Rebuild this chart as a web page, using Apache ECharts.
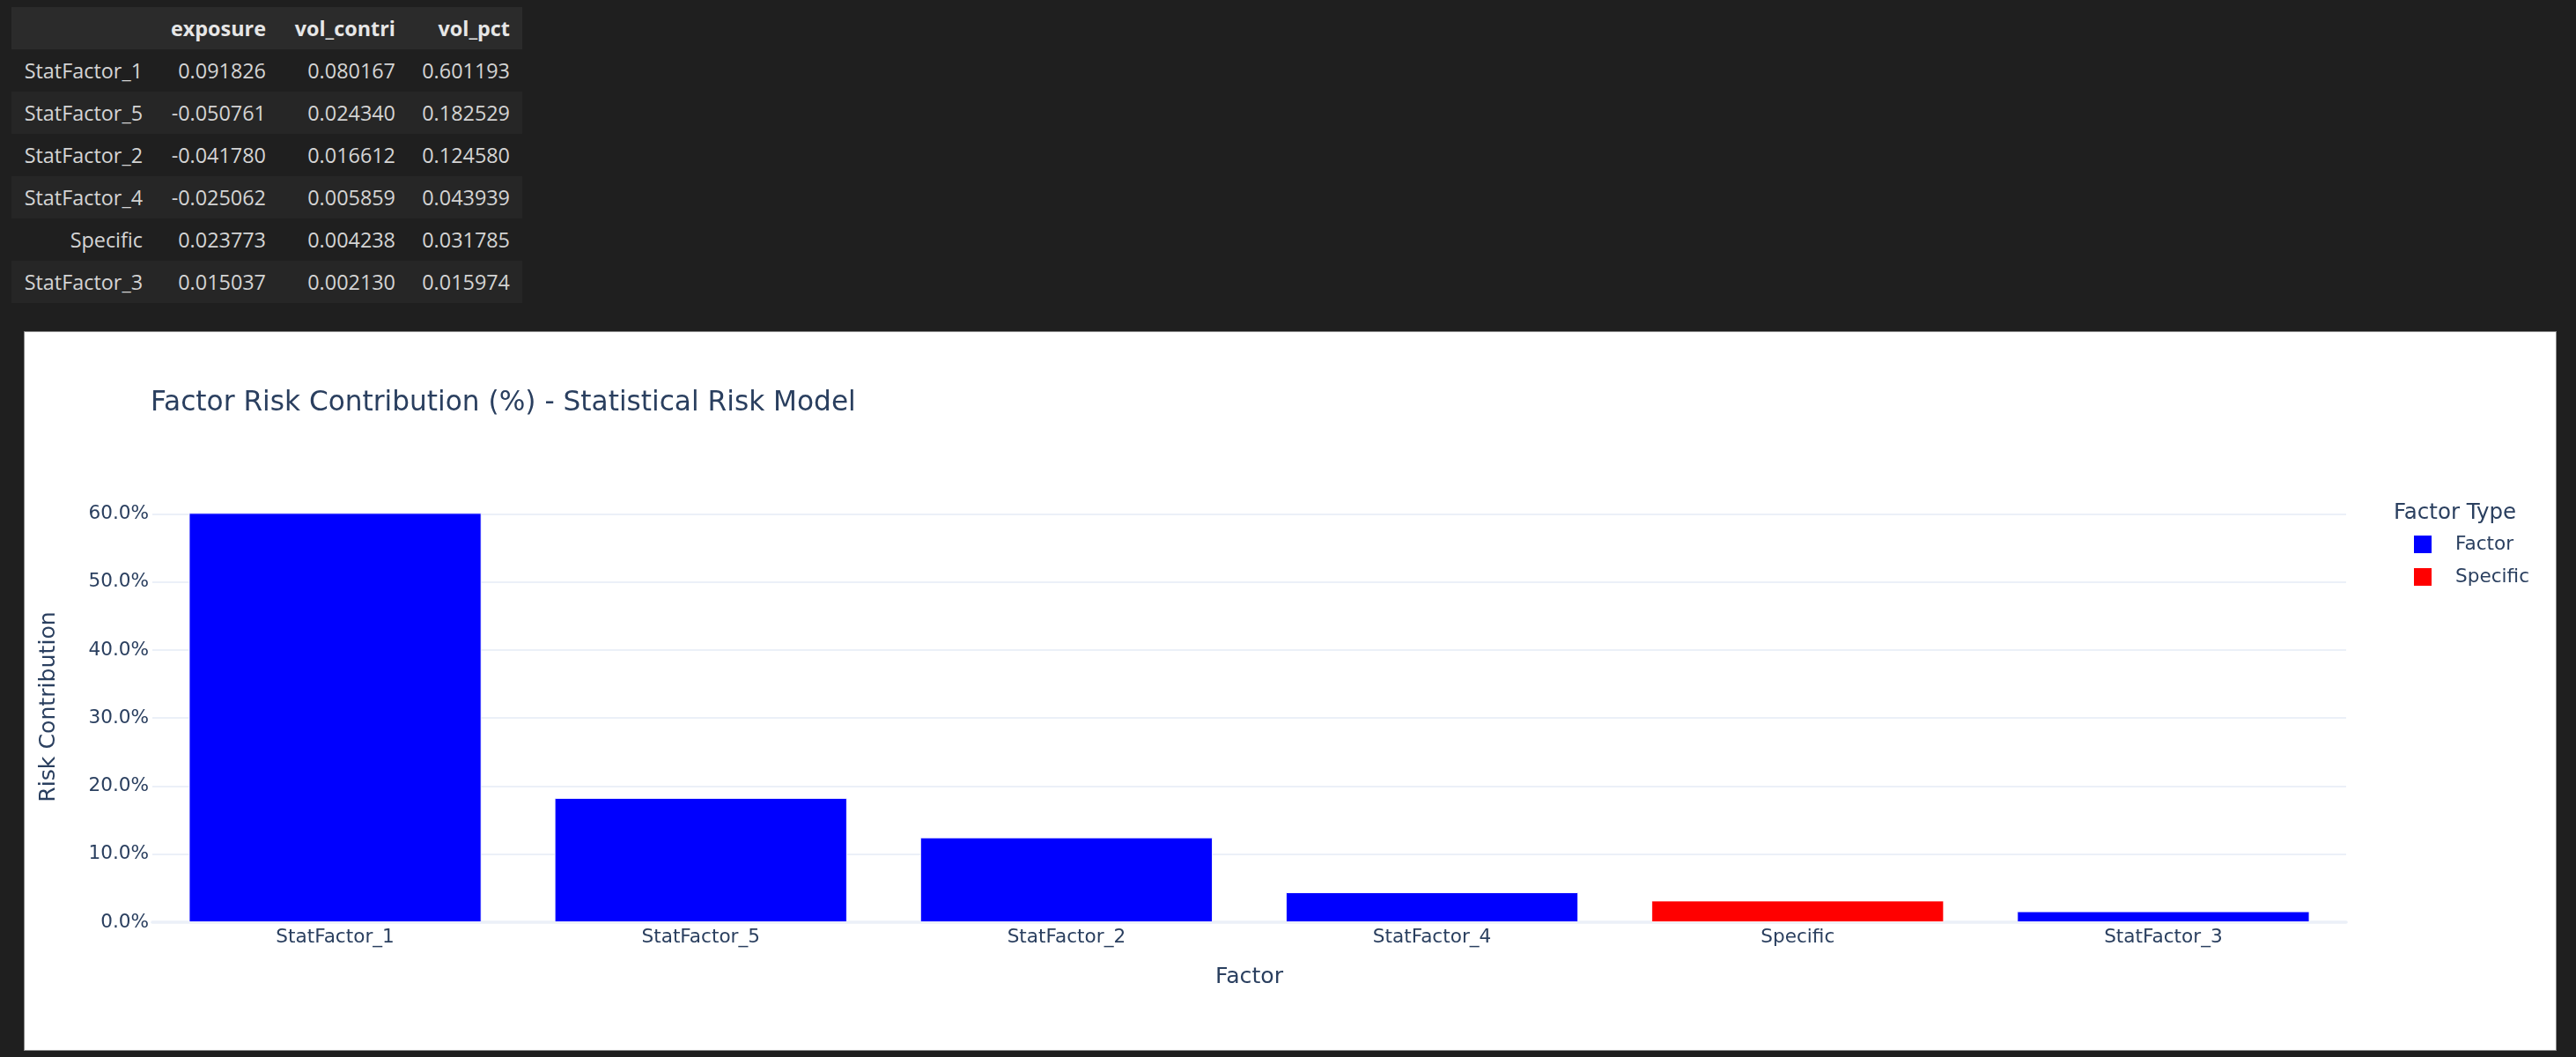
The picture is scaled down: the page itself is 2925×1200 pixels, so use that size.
<!DOCTYPE html>
<html>
<head>
<meta charset="utf-8">
<script src="https://cdn.jsdelivr.net/npm/echarts@6/dist/echarts.min.js"></script>
<style>
html,body{margin:0;padding:0;background:#1f1f1f;width:2925px;height:1200px;overflow:hidden;}
#tbl{position:absolute;left:13px;top:8px;border-collapse:collapse;table-layout:fixed;font-family:"Open Sans",sans-serif;font-size:23.4px;color:#d4d4d4;}
#tbl th,#tbl td{height:48px;padding:0 14px 0 0;text-align:right;box-sizing:border-box;white-space:nowrap;}
#tbl thead tr{background:#2b2b2b;}
#tbl tbody tr:nth-child(even){background:#262626;}
#tbl th{font-weight:bold;color:#e6e6e6;}
#chart{position:absolute;left:28px;top:377px;width:2874px;height:815px;background:#fff;box-shadow:0 0 0 1px #8a8a8a;}
</style>
</head>
<body>
<table id="tbl"><colgroup><col style="width:163px"><col style="width:140px"><col style="width:147px"><col style="width:130px"></colgroup><thead></thead><tbody></tbody></table>
<div id="chart"></div>
<script>
// ---- data ----
const factors = ['StatFactor_1', 'StatFactor_5', 'StatFactor_2', 'StatFactor_4', 'Specific', 'StatFactor_3'];
const exposure = [0.091826, -0.050761, -0.041780, -0.025062, 0.023773, 0.015037];
const volContri = [0.080167, 0.024340, 0.016612, 0.005859, 0.004238, 0.002130];
const volPct = [0.601193, 0.182529, 0.124580, 0.043939, 0.031785, 0.015974];
const factorType = ['Factor', 'Factor', 'Factor', 'Factor', 'Specific', 'Factor'];
const tableColumns = ['exposure', 'vol_contri', 'vol_pct'];
const typeNames = ['Factor', 'Specific'];
const typeColors = ['#0000ff', '#ff0000'];
const yAxisMax = 0.6328;
const yTickStep = 0.1;

// ---- table ----
const thead = document.querySelector('#tbl thead');
const tbody = document.querySelector('#tbl tbody');
thead.innerHTML = '<tr><th></th>' + tableColumns.map(c => '<th>' + c + '</th>').join('') + '</tr>';
let rows = '';
factors.forEach((f, i) => {
  rows += '<tr><td>' + f + '</td><td>' + exposure[i].toFixed(6) + '</td><td>' +
    volContri[i].toFixed(6) + '</td><td>' + volPct[i].toFixed(6) + '</td></tr>';
});
tbody.innerHTML = rows;

// ---- chart ----
const FONT = '"DejaVu Sans", Verdana, sans-serif';
const C = '#2a3f5f';
const GRID = '#EBF0F8';
const chart = echarts.init(document.getElementById('chart'), null, {renderer: 'canvas'});
const series = typeNames.map((t, k) => ({
  name: t,
  type: 'bar',
  stack: 'total',
  barWidth: '80%',
  data: volPct.map((v, i) => factorType[i] === t ? v : null),
  itemStyle: {color: typeColors[k], borderColor: '#ffffff', borderWidth: 0.9}
}));
chart.setOption({
  backgroundColor: '#ffffff',
  animation: false,
  textStyle: {fontFamily: FONT},
  title: [
    {text: 'Factor Risk Contribution (%) - Statistical Risk Model', left: 143, top: 65, padding: 0,
     textStyle: {fontSize: 31.2, fontWeight: 'normal', color: C, fontFamily: FONT}},
    {text: 'Factor Type', left: 2690, top: 193, padding: 0,
     textStyle: {fontSize: 24.5, fontWeight: 'normal', color: C, fontFamily: FONT}}
  ],
  legend: {
    orient: 'vertical', left: 2711, top: 229, padding: 0,
    itemWidth: 22, itemHeight: 22, itemGap: 13, icon: 'rect',
    data: typeNames,
    textStyle: {fontSize: 21.6, color: C, fontFamily: FONT, padding: [0, 0, 0, 21]}
  },
  grid: {left: 145, right: 238, top: 181, bottom: 145, containLabel: false},
  xAxis: {
    type: 'category', data: factors,
    axisLine: {show: true, lineStyle: {color: GRID, width: 3.6}},
    axisTick: {show: false},
    axisLabel: {fontSize: 21.6, color: C, margin: 6, fontFamily: FONT},
    splitLine: {show: false},
    name: 'Factor', nameLocation: 'middle', nameGap: 50,
    nameTextStyle: {fontSize: 25.2, color: C, fontFamily: FONT}
  },
  yAxis: {
    type: 'value', min: 0, max: yAxisMax, interval: yTickStep,
    axisLine: {show: false}, axisTick: {show: false},
    axisLabel: {fontSize: 21.6, color: C, margin: 4, fontFamily: FONT, showMaxLabel: false,
      formatter: v => (v * 100).toFixed(1) + '%'},
    splitLine: {show: true, showMinLine: false, showMaxLine: false, lineStyle: {color: GRID, width: 1.8}},
    name: 'Risk Contribution', nameLocation: 'middle', nameGap: 105,
    nameTextStyle: {fontSize: 25.2, color: C, fontFamily: FONT}
  },
  series: series
});
</script>
</body>
</html>
